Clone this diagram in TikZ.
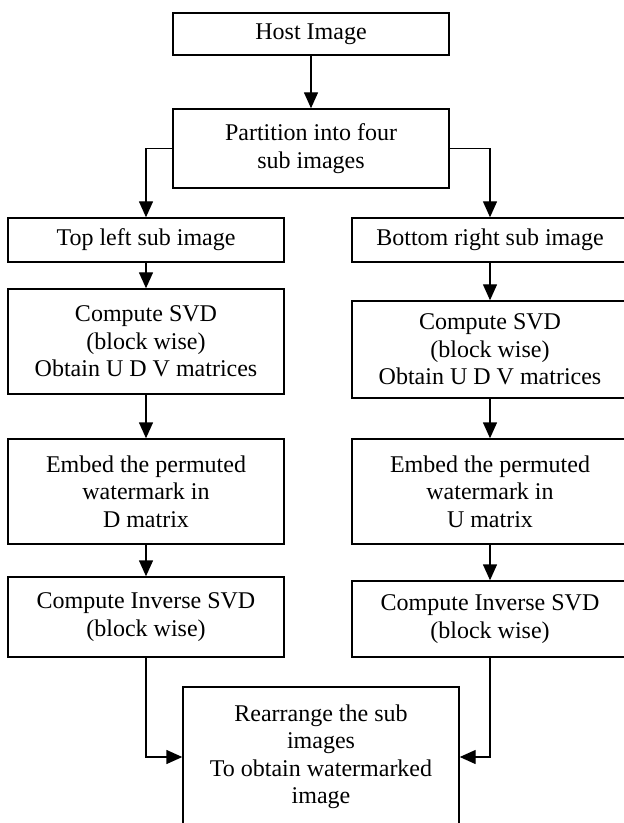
\documentclass[tikz,border=0pt]{standalone}
\usepackage{fontspec}
\setmainfont{Liberation Serif}
\usetikzlibrary{arrows.meta}
\begin{document}
\begin{tikzpicture}[x=0.5pt, y=-0.5pt]
            \tikzstyle{box}=[draw=black, line width=0.7pt, align=center, font=\fontsize{12}{13.75}\selectfont, minimum width=138pt]
            \tikzstyle{arr}=[black, line width=0.7pt, -{Triangle[length=8pt, width=7pt]}]
            \useasboundingbox (0,0) rectangle (624,823);

            \node[box, minimum height=21pt] (host) at (311,34) {Host Image};
            \node[box, minimum height=39.5pt] (part) at (311,148.5) {Partition into four\\sub images};

            \node[box, minimum height=22pt] (tl) at (146,240) {Top left sub image};
            \node[box, minimum height=52.5pt] (svdl) at (146,341.5) {Compute SVD\\(block wise)\\Obtain U D V matrices};
            \node[box, minimum height=52.5pt] (embl) at (146,491.5) {Embed the permuted\\watermark in\\D matrix};
            \node[box, minimum height=40pt] (invl) at (146,617) {Compute Inverse SVD\\(block wise)};

            \node[box, minimum height=22pt] (br) at (490,240) {Bottom right sub image};
            \node[box, minimum height=48.5pt] (svdr) at (490,349.5) {Compute SVD\\(block wise)\\Obtain U D V matrices};
            \node[box, minimum height=52.5pt] (embr) at (490,491.5) {Embed the permuted\\watermark in\\U matrix};
            \node[box, minimum height=38pt] (invr) at (490,619) {Compute Inverse SVD\\(block wise)};

            \node[box, minimum height=70pt] (rearr) at (321,757) {Rearrange the sub\\images\\To obtain watermarked\\image};

            \draw[arr] (host) -- (part);
            \draw[arr] (part.west) -| (tl.north);
            \draw[arr] (part.east) -| (br.north);

            \draw[arr] (tl) -- (svdl);
            \draw[arr] (svdl) -- (embl);
            \draw[arr] (embl) -- (invl);
            \draw[arr] (br) -- (svdr);
            \draw[arr] (svdr) -- (embr);
            \draw[arr] (embr) -- (invr);

            \draw[arr] (invl.south) |- (rearr.west);
            \draw[arr] (invr.south) |- (rearr.east);
\end{tikzpicture}
\end{document}
